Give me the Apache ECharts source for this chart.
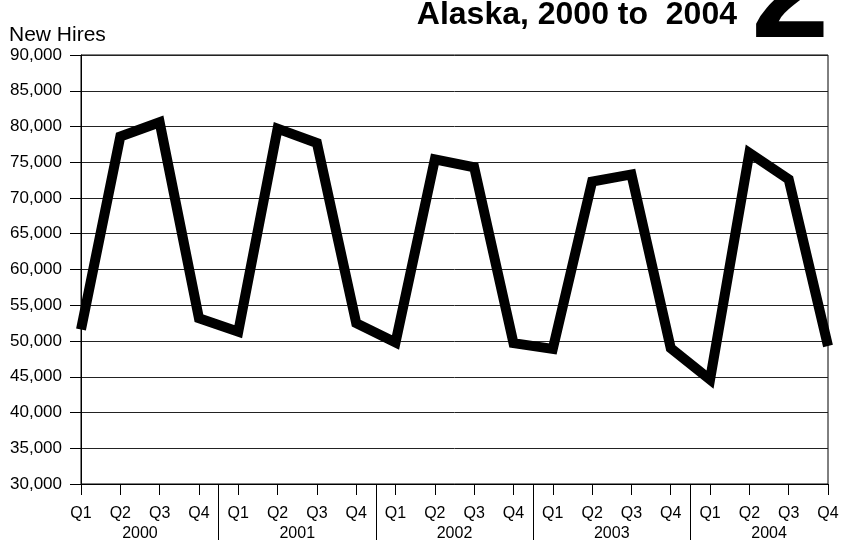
<!DOCTYPE html>
<html>
<head>
<meta charset="utf-8">
<title>New Hires, Alaska, 2000 to 2004</title>
<script src="https://cdn.jsdelivr.net/npm/echarts@6/dist/echarts.min.js"></script>
<style>
    html, body { margin: 0; padding: 0; background: #fff; }
    #container { width: 842px; height: 542px; }
</style>
</head>
<body>
<div id="container"></div>
<script>
// data
var years = ['2000', '2001', '2002', '2003', '2004'];
var quarters = ['Q1', 'Q2', 'Q3', 'Q4'];
var newHires = [
    51600, 78600, 80600, 53200,
    51300, 79700, 77700, 52500,
    49800, 75400, 74300, 49700,
    48900, 72300, 73300, 49000,
    44600, 76300, 72600, 49300
];
var yMin = 30000;
var yMax = 90000;
var yStep = 5000;

// Q1..Q4 for every year
var quarterLabels = [];
for (var i = 0; i < years.length; i++) {
    for (var j = 0; j < quarters.length; j++) {
        quarterLabels.push(quarters[j]);
    }
}

// half-step axis: year name in the middle of its quarters, tick between Q4 and Q1
var halfSteps = [];
for (var k = 0; k < quarterLabels.length * 2 - 1; k++) {
    halfSteps.push(k % 8 === 3 ? years[(k - 3) / 8] : '');
}

var dom = document.getElementById('container');
var myChart = echarts.init(dom, null, { renderer: 'canvas' });
var font = 'Liberation Sans, Arial, Helvetica, sans-serif';

var option = {
    backgroundColor: '#fff',
    animation: false,
    textStyle: { fontFamily: font, color: '#000' },
    title: [{
        text: 'New Hires',
        left: 9,
        top: 25,
        padding: 0,
        textStyle: { fontFamily: font, fontSize: 21, fontWeight: 'normal', color: '#000' }
    }, {
        text: 'Alaska, 2000 to  2004',
        right: 105,
        top: -1,
        padding: 0,
        textStyle: { fontFamily: font, fontSize: 32, fontWeight: 'bold', color: '#000' }
    }, {
        text: '2',
        right: 13,
        top: -72,
        padding: 0,
        textStyle: { fontFamily: font, fontSize: 140, fontWeight: 'bold', color: '#000' }
    }],
    grid: {
        left: 81,
        right: 14,
        top: 55,
        bottom: 55,
        show: true,
        borderColor: '#000',
        borderWidth: 1,
        containLabel: false
    },
    xAxis: [{
        type: 'category',
        data: quarterLabels,
        boundaryGap: false,
        position: 'bottom',
        axisLine: { show: true, lineStyle: { color: '#000', width: 1 } },
        axisTick: { show: true, length: 11, interval: 0, lineStyle: { color: '#000' } },
        axisLabel: { interval: 0, margin: 22, fontSize: 16, color: '#000', fontFamily: font },
        splitLine: { show: false }
    }, {
        type: 'category',
        data: halfSteps,
        boundaryGap: false,
        position: 'bottom',
        axisLine: { show: false },
        axisTick: {
            show: true,
            length: 56,
            interval: function (index) { return index % 8 === 7; },
            lineStyle: { color: '#000' }
        },
        axisLabel: { interval: 0, margin: 42, fontSize: 16, color: '#000', fontFamily: font },
        splitLine: { show: false }
    }],
    yAxis: {
        type: 'value',
        min: yMin,
        max: yMax,
        interval: yStep,
        axisLine: { show: true, lineStyle: { color: '#000', width: 1 } },
        axisTick: { show: true, length: 11, lineStyle: { color: '#000' } },
        axisLabel: {
            margin: 19,
            fontSize: 17,
            color: '#000',
            fontFamily: font,
            formatter: function (v) { return v.toLocaleString('en-US'); }
        },
        splitLine: { show: true, lineStyle: { color: '#222', width: 1 } }
    },
    series: [{
        type: 'line',
        data: newHires,
        xAxisIndex: 0,
        symbol: 'none',
        clip: false,
        lineStyle: { color: '#000', width: 10, join: 'miter', miterLimit: 10, cap: 'butt' },
        z: 5
    }, {
        // empty series so the year axis gets laid out
        type: 'line',
        xAxisIndex: 1,
        data: [],
        symbol: 'none'
    }]
};

myChart.setOption(option);
</script>
</body>
</html>
